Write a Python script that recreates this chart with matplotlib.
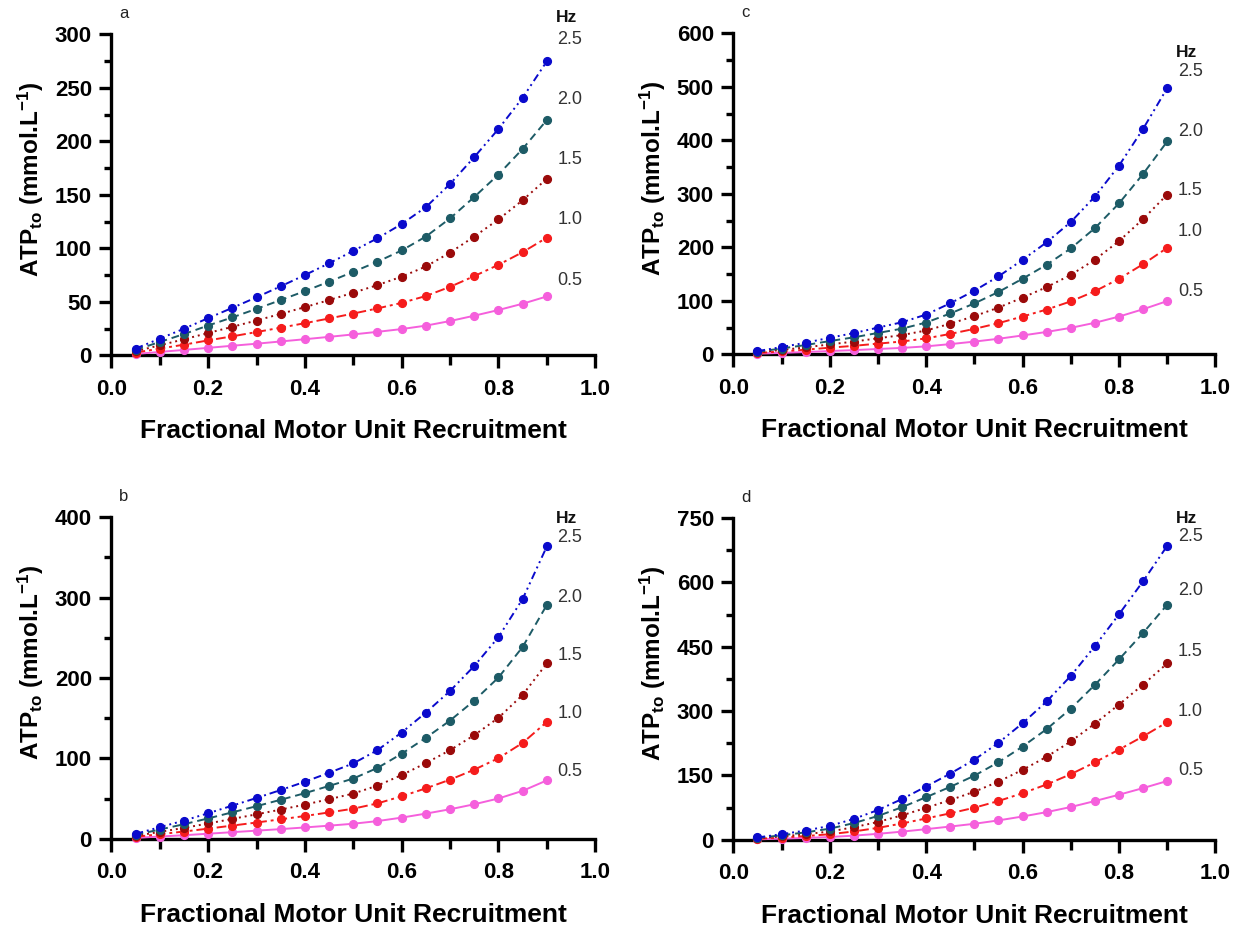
import matplotlib
matplotlib.use("Agg")
import matplotlib.pyplot as plt
from matplotlib.ticker import MultipleLocator

plt.rcParams['font.family'] = ['Liberation Sans', 'DejaVu Sans']
plt.rcParams['mathtext.fontset'] = 'custom'
plt.rcParams['mathtext.rm'] = 'Liberation Sans:bold'
plt.rcParams['mathtext.bf'] = 'Liberation Sans:bold'
plt.rcParams['mathtext.it'] = 'Liberation Sans:bold'

x = [0.05, 0.10, 0.15, 0.20, 0.25, 0.30, 0.35, 0.40, 0.45,
     0.50, 0.55, 0.60, 0.65, 0.70, 0.75, 0.80, 0.85, 0.90]
freqs = ["0.5", "1.0", "1.5", "2.0", "2.5"]

# Panel a
a_05 = [1.2, 3.1, 5.0, 6.9, 8.9, 10.8, 12.9, 15.0, 17.2, 19.5, 21.9, 24.5, 27.7, 32.0, 37.0, 42.3, 48.2, 55.0]
a_10 = [2.5, 6.2, 9.9, 13.9, 17.7, 21.7, 25.8, 30.0, 34.4, 39.0, 43.8, 49.0, 55.4, 64.0, 74.0, 84.6, 96.4, 110.0]
a_15 = [3.7, 9.3, 14.9, 20.8, 26.6, 32.5, 38.7, 45.0, 51.6, 58.5, 65.6, 73.5, 83.0, 96.0, 111.0, 127.0, 145.0, 165.0]
a_20 = [5.0, 12.4, 19.8, 27.8, 35.4, 43.4, 51.6, 60.0, 68.8, 78.0, 87.5, 98.0, 111.0, 128.0, 148.0, 169.0, 193.0, 220.0]
a_25 = [6.2, 15.5, 24.8, 34.7, 44.3, 54.2, 64.5, 75.0, 86.0, 97.6, 109.4, 122.7, 138.5, 160.2, 185.3, 211.6, 240.8, 274.9]

# Panel b
b_05 = [1.2, 2.9, 4.5, 6.4, 8.3, 10.2, 12.1, 14.2, 16.4, 18.8, 22.1, 26.4, 31.4, 36.8, 43.0, 50.2, 59.7, 72.7]
b_10 = [2.5, 5.8, 9.1, 12.7, 16.5, 20.3, 24.3, 28.4, 32.9, 37.5, 44.1, 52.9, 62.8, 73.6, 86.0, 100.3, 119.3, 145.4]
b_15 = [3.7, 8.7, 13.6, 19.1, 24.8, 30.5, 36.4, 42.6, 49.3, 56.3, 66.2, 79.3, 94.2, 110.3, 128.9, 150.5, 179.0, 218.2]
b_20 = [5.0, 11.6, 18.2, 25.4, 33.0, 40.6, 48.6, 56.8, 65.8, 75.0, 88.2, 105.8, 125.6, 147.1, 171.9, 200.6, 238.6, 290.9]
b_25 = [6.2, 14.5, 22.7, 31.8, 41.3, 50.8, 60.7, 71.0, 82.2, 93.8, 110.3, 132.2, 157.0, 183.9, 214.9, 250.8, 298.3, 363.6]

# Panel c
c_05 = [1.2, 2.7, 4.3, 6.2, 7.9, 10.0, 12.0, 14.9, 19.1, 23.8, 29.1, 35.3, 41.9, 49.5, 59.0, 70.6, 84.3, 99.6]
c_10 = [2.4, 5.4, 8.7, 12.4, 15.9, 20.0, 24.0, 29.8, 38.2, 47.6, 58.3, 70.7, 83.8, 99.0, 118.0, 141.1, 168.6, 199.1]
c_15 = [3.6, 8.2, 13.0, 18.6, 23.8, 30.0, 36.0, 44.6, 57.3, 71.4, 87.4, 106.0, 125.7, 148.5, 177.0, 211.7, 253.0, 298.7]
c_20 = [4.8, 10.9, 17.4, 24.8, 31.8, 40.0, 48.0, 59.5, 76.4, 95.2, 116.6, 141.4, 167.6, 198.0, 236.0, 282.2, 337.3, 398.0]
c_25 = [6.0, 13.6, 21.7, 31.0, 39.7, 50.0, 60.0, 74.4, 95.5, 119.0, 145.7, 176.7, 209.5, 247.4, 295.0, 352.8, 421.6, 497.8]

# Panel d
d_05 = [1.1, 2.6, 4.3, 6.5, 9.7, 13.9, 19.0, 24.8, 30.9, 37.3, 45.2, 54.3, 64.5, 76.4, 90.3, 105.0, 120.5, 137.0]
d_10 = [2.2, 5.2, 8.6, 13.0, 19.4, 27.8, 38.0, 49.7, 61.7, 74.7, 90.4, 108.6, 129.0, 152.8, 180.6, 210.2, 241.0, 274.0]
d_15 = [3.2, 7.8, 13.0, 19.4, 29.2, 41.6, 57.0, 74.5, 92.6, 112.0, 135.6, 163.0, 193.5, 229.2, 270.8, 315.3, 361.6, 411.0]
d_20 = [4.3, 10.4, 17.3, 25.9, 38.9, 55.5, 76.0, 99.4, 123.4, 149.4, 180.8, 217.3, 258.0, 305.6, 361.1, 420.4, 482.1, 548.0]
d_25 = [5.4, 13.0, 21.6, 32.4, 48.6, 69.4, 95.0, 124.2, 154.3, 186.7, 226.0, 271.6, 322.5, 382.0, 451.4, 525.5, 602.6, 685.0]

colors = ["#f55fdc", "#f51c1c", "#9a0a0a", "#1d5b66", "#0a0acc"]
styles = ["-", (0, (5, 2, 1.5, 2)), (0, (1, 2)), (0, (4, 2.5)), (0, (4, 2, 1, 2, 1, 2))]

panels = [
    dict(letter="a", series=[a_05, a_10, a_15, a_20, a_25], ymax=300, major=50, minor=25,
         rect=[0.0895, 0.618, 0.389, 0.345], hz_y=316, lab_y=[70, 127, 183, 239, 295]),
    dict(letter="c", series=[c_05, c_10, c_15, c_20, c_25], ymax=600, major=100, minor=50,
         rect=[0.5895, 0.619, 0.3875, 0.345], hz_y=565, lab_y=[118, 230, 306, 417, 529]),
    dict(letter="b", series=[b_05, b_10, b_15, b_20, b_25], ymax=400, major=100, minor=50,
         rect=[0.0895, 0.098, 0.389, 0.346], hz_y=398, lab_y=[84, 156, 228, 300, 375]),
    dict(letter="d", series=[d_05, d_10, d_15, d_20, d_25], ymax=750, major=150, minor=75,
         rect=[0.5895, 0.097, 0.3875, 0.346], hz_y=748, lab_y=[161, 300, 440, 580, 706]),
]

fig = plt.figure(figsize=(12.44, 9.30), dpi=100)

for p in panels:
    ax = fig.add_axes(p["rect"])
    for ys, c, ls in zip(p["series"], colors, styles):
        ax.plot(x, ys, color=c, linestyle=ls, linewidth=1.4, marker="o",
                markersize=5.6, clip_on=False, zorder=3)
    ax.set_xlim(0, 1.0)
    ax.set_ylim(0, p["ymax"])
    ax.xaxis.set_major_locator(MultipleLocator(0.2))
    ax.xaxis.set_minor_locator(MultipleLocator(0.1))
    ax.yaxis.set_major_locator(MultipleLocator(p["major"]))
    ax.yaxis.set_minor_locator(MultipleLocator(p["minor"]))
    ax.xaxis.set_major_formatter(matplotlib.ticker.FormatStrFormatter("%.1f"))
    for s in ["top", "right"]:
        ax.spines[s].set_visible(False)
    for s in ["left", "bottom"]:
        ax.spines[s].set_linewidth(2.4)
    ax.tick_params(which="major", direction="out", length=9, width=2.4, labelsize=16)
    ax.tick_params(axis="x", which="major", pad=8)
    ax.tick_params(axis="y", which="major", pad=5)
    ax.tick_params(which="minor", direction="out", length=5, width=2.4)
    ax.tick_params(axis="x", which="minor", length=7)
    for lbl in ax.get_xticklabels() + ax.get_yticklabels():
        lbl.set_fontweight("bold")
    ax.set_xlabel("Fractional Motor Unit Recruitment", fontsize=19, fontweight="bold", labelpad=14)
    ax.set_ylabel(r"ATP$_{\mathbf{to}}$ (mmol.L$^{\mathbf{-1}}$)", fontsize=17.5, fontweight="bold")
    ax.yaxis.set_label_coords(-0.135, 0.55)
    for f, yv in zip(freqs, p["lab_y"]):
        ax.text(0.922, yv, f, fontsize=13, color="#333333", ha="left", va="center", clip_on=False)
    ax.text(0.918, p["hz_y"], "Hz", fontsize=12.5, fontweight="bold", color="#111111",
            ha="left", va="center", clip_on=False)
    r = p["rect"]
    fig.text(r[0] + 0.006, r[1] + r[3] + 0.014, p["letter"], fontsize=12, color="#222222",
             ha="left", va="bottom")

fig.savefig("out.png", dpi=100)
